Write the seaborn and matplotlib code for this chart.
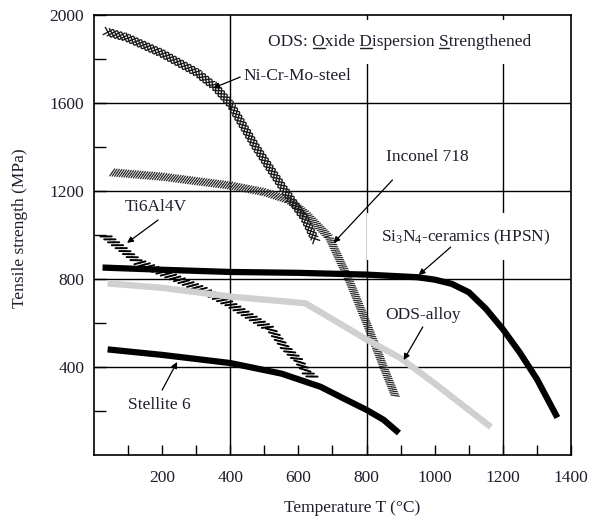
import numpy as np
import pandas as pd
import matplotlib
matplotlib.use('Agg')
import matplotlib.pyplot as plt
import matplotlib.patheffects as pe
from matplotlib.lines import Line2D
import seaborn as sns

# curves: temperature T (°C) -> tensile strength (MPa)
steel_T = [35, 100, 200, 300, 356, 400, 475, 550, 620, 650]
steel_S = [1925, 1895, 1825, 1740, 1673, 1595, 1400, 1225, 1070, 975]

inconel_T = [50, 200, 400, 500, 570, 620, 690, 750, 800, 850, 885]
inconel_S = [1285, 1265, 1225, 1195, 1160, 1100, 990, 790, 600, 400, 265]

si3n4_T = [25, 200, 400, 600, 800, 950, 1000, 1050, 1100, 1150, 1200, 1250, 1300, 1360]
si3n4_S = [852, 842, 832, 828, 820, 808, 797, 778, 740, 665, 572, 465, 345, 170]

ods_T = [40, 200, 400, 620, 700, 800, 900, 1000, 1100, 1165]
ods_S = [780, 760, 720, 690, 617, 525, 440, 325, 205, 127]

ti_T = [30, 80, 130, 200, 320, 400, 520, 560, 600, 625, 645]
ti_S = [1000, 940, 877, 830, 750, 685, 570, 490, 430, 375, 350]

stellite_T = [40, 200, 400, 550, 665, 735, 800, 850, 895]
stellite_S = [480, 455, 418, 370, 310, 255, 205, 160, 100]

x_ticks = list(range(100, 1401, 100))
y_ticks = list(range(200, 2001, 200))
x_grid = [400, 800, 1200]
y_grid = [400, 800, 1200, 1600]

# label text, text position, arrow tail, arrow head (data coords)
labels = [
    ('Ni-Cr-Mo-steel', (438, 1723), (429, 1718), (350, 1668)),
    ('Inconel 718', (856, 1354), (876, 1250), (703, 964)),
    ('ODS-alloy', (856, 636), (965, 582), (909, 432)),
    ('Ti6Al4V', (91, 1127), (188, 1068), (97, 964)),
    ('Stellite 6', (100, 227), (200, 295), (244, 423)),
]
si_label = ('Si$_3$N$_4$-ceramics (HPSN)', (841, 991), (1047, 945), (953, 818))
ods_label = 'ODS: Oxide Dispersion Strengthened'
ods_pos = (512, 1877)

sns.set_theme(style='white')
plt.rcParams['font.family'] = ['Liberation Serif', 'DejaVu Serif']
plt.rcParams['mathtext.fontset'] = 'custom'
plt.rcParams['mathtext.rm'] = 'Liberation Serif'
plt.rcParams['mathtext.it'] = 'Liberation Serif:italic'
plt.rcParams['mathtext.bf'] = 'Liberation Serif:bold'

txt_col = '#1e1e2c'
fs = 12.5

fig = plt.figure(figsize=(5.9, 5.22), dpi=100)
fig.patch.set_facecolor('white')
ax = fig.add_axes([94 / 590, 1 - 455 / 522, 477 / 590, 440 / 522])

for g in x_grid:
    ax.axvline(g, color='black', lw=1.0, zorder=1)
for g in y_grid:
    ax.axhline(g, color='black', lw=1.0, zorder=1)


def curve(T, S, **kw):
    d = pd.DataFrame({'T': T, 'S': S})
    sns.lineplot(data=d, x='T', y='S', ax=ax, sort=False, estimator=None, **kw)
    return ax.lines[-1]


def ticks_both(spacing, angle, length, lw):
    return [pe.TickedStroke(spacing=spacing, angle=angle, length=length, linewidth=lw),
            pe.TickedStroke(spacing=spacing, angle=angle + 180, length=length, linewidth=lw)]


# Inconel 718: diagonal hatch band
l = curve(inconel_T, inconel_S, color='#2a2a2a', lw=1, zorder=3)
l.set_path_effects(ticks_both(1.7, 60, 1.8, 0.9))

# Ni-Cr-Mo-steel: cross-hatched band
l = curve(steel_T, steel_S, color='#1a1a1a', lw=1, zorder=3)
l.set_path_effects(ticks_both(3.0, 45, 1.3, 1.0) + ticks_both(3.0, 135, 1.3, 1.0))

# Ti6Al4V: stacked horizontal dashes
l = curve(ti_T, ti_S, color='black', lw=1, zorder=3)
l.set_path_effects(ticks_both(3.4, 38, 1.2, 1.4))

# solid bands
curve(ods_T, ods_S, color='#d0d0d0', lw=4.6, zorder=4, solid_capstyle='butt')
curve(si3n4_T, si3n4_S, color='black', lw=4.5, zorder=4, solid_capstyle='butt')
curve(stellite_T, stellite_S, color='black', lw=4.5, zorder=4, solid_capstyle='butt')

arrow_kw = dict(arrowstyle='-|>', color='black', lw=0.9, mutation_scale=9,
                shrinkA=0, shrinkB=0)
for text, tpos, tail, head in labels:
    ax.text(tpos[0], tpos[1], text, ha='left', va='center', fontsize=fs,
            color=txt_col, zorder=6)
    ax.annotate('', xy=head, xytext=tail, arrowprops=arrow_kw, zorder=6)

text, tpos, tail, head = si_label
ax.text(tpos[0], tpos[1], text, ha='left', va='center', fontsize=fs, color=txt_col,
        zorder=5, bbox=dict(facecolor='white', edgecolor='none', boxstyle='square,pad=0.8'))
ax.annotate('', xy=head, xytext=tail, arrowprops=arrow_kw, zorder=6)

t = ax.text(ods_pos[0], ods_pos[1], ods_label, ha='left', va='center', fontsize=fs,
            color=txt_col, zorder=5,
            bbox=dict(facecolor='white', edgecolor='none', boxstyle='square,pad=0.8'))

ax.set_xlim(0, 1400)
ax.set_ylim(0, 2000)
ax.set_xticks(x_ticks)
ax.set_xticklabels([str(v) if v % 200 == 0 else '' for v in x_ticks])
ax.set_yticks(y_ticks)
ax.set_yticklabels([str(v) if v % 400 == 0 else '' for v in y_ticks])
ax.tick_params(axis='both', direction='in', width=1, color='black',
               labelcolor=txt_col, labelsize=fs, bottom=True, left=True)
ax.tick_params(axis='x', pad=11, length=7.5)
ax.tick_params(axis='y', pad=7, length=8.5)
for s in ax.spines.values():
    s.set_color('black')
    s.set_linewidth(1.2)

ax.set_xlabel('Temperature T (°C)', fontsize=fs, color=txt_col)
ax.set_ylabel('Tensile strength (MPa)', fontsize=fs, color=txt_col)
ax.xaxis.label.set_va('center')
ax.yaxis.label.set_va('center')
ax.xaxis.set_label_coords(0.541, -0.12)
ax.yaxis.set_label_coords(-0.155, 0.516)

# underline the initials O, D, S
fig.canvas.draw()
r = fig.canvas.get_renderer()
bb = t.get_window_extent(r)
prop = t.get_fontproperties()
_, _, desc = r.get_text_width_height_descent(ods_label, prop, ismath=False)
base = bb.y0 + desc
inv = fig.transFigure.inverted()
for i in [5, 11, 22]:
    w_end = r.get_text_width_height_descent(ods_label[:i + 1], prop, ismath=False)[0]
    w_ch = r.get_text_width_height_descent(ods_label[i], prop, ismath=False)[0]
    (fx0, fy), (fx1, _) = inv.transform([(bb.x0 + w_end - w_ch, base - 2),
                                         (bb.x0 + w_end, base - 2)])
    fig.add_artist(Line2D([fx0, fx1], [fy, fy], color=txt_col, lw=1.0, zorder=6))

fig.savefig('out.png', dpi=100)
